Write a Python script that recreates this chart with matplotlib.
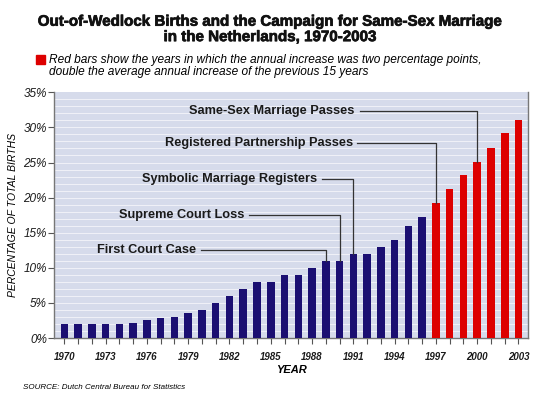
"""
Out-of-wedlock births in the Netherlands, 1970-2003, with the milestones
of the same-sex marriage campaign marked on the bars.
"""

import matplotlib
matplotlib.use("Agg")
import matplotlib.pyplot as plt
import matplotlib.patches as mpatches
import matplotlib.patheffects as pe

years = list(range(1970, 2004))
pct_births = [2, 2, 2, 2, 2, 2.2, 2.5, 2.8, 3, 3.5, 4, 5, 6, 7, 8, 8, 9, 9,
              10, 11, 11, 12, 12, 13, 14, 16, 17.2, 19.2, 21.2, 23.2, 25.1,
              27.1, 29.2, 31.1]
red_from = 1997

events = ["Same-Sex Marriage Passes", "Registered Partnership Passes",
          "Symbolic Marriage Registers", "Supreme Court Loss", "First Court Case"]
event_years = [2000, 1997, 1991, 1990, 1989]
event_levels = [32.4, 27.8, 22.6, 17.5, 12.5]
event_text_end = [1991.1, 1990.95, 1988.35, 1983.1, 1979.6]

NAVY = "#1b0f72"
RED = "#dd0000"
BG = "#d6dbeb"
FONT = "Liberation Sans"

fig = plt.figure(figsize=(5.4, 3.95), dpi=100)
ax = fig.add_axes([0.1, 0.1443, 0.878, 0.622])
ax.set_facecolor(BG)

for g in range(1, 35):
    ax.axhline(g, color="#f4f5fa", linewidth=0.6, zorder=1)

colors = [RED if y >= red_from else NAVY for y in years]
ax.bar(years, pct_births, width=0.55, color=colors, zorder=3)

ax.set_xlim(1969.25, 2003.7)
ax.set_ylim(0, 35)

for name, yr, lvl, tend in zip(events, event_years, event_levels, event_text_end):
    top = pct_births[years.index(yr)]
    ax.text(tend, lvl, name, ha="right", va="center", fontsize=9.2,
            fontweight="bold", family=FONT, color="#1a1a1a", zorder=4)
    ax.plot([tend + 0.35, yr, yr], [lvl, lvl, top], color="#333333",
            linewidth=0.9, zorder=4)

ax.set_yticks(range(0, 36, 5))
ax.set_yticklabels([f"{v}%" for v in range(0, 36, 5)], fontsize=8.5,
                   style="italic", family=FONT, color="#1a1a1a")
ax.set_xticks(years)
ax.set_xticklabels([str(y) if (y - 1970) % 3 == 0 else "" for y in years],
                   fontsize=7, style="italic", fontweight="bold", family=FONT,
                   color="#1a1a1a")
ax.tick_params(axis="x", length=4, width=0.8, color="#555555", pad=6)
ax.tick_params(axis="y", length=4, width=0.8, color="#555555", pad=1)

for side in ["left", "bottom", "right"]:
    ax.spines[side].set_color("#777777")
    ax.spines[side].set_linewidth(1)
ax.spines["top"].set_visible(False)

ax.set_xlabel("YEAR", fontsize=8, style="italic", fontweight="bold",
              family=FONT, labelpad=2)
ax.set_ylabel("PERCENTAGE OF TOTAL BIRTHS", fontsize=7.5, style="italic",
              family=FONT, labelpad=4)

heavy = [pe.withStroke(linewidth=0.5, foreground="#111111")]
fig.text(0.5, 0.945, "Out-of-Wedlock Births and the Campaign for Same-Sex Marriage",
         ha="center", va="center", fontsize=10.9, fontweight="bold", family=FONT,
         color="#111111", path_effects=heavy)
fig.text(0.5, 0.906, "in the Netherlands, 1970-2003",
         ha="center", va="center", fontsize=10.9, fontweight="bold", family=FONT,
         color="#111111", path_effects=heavy)

fig.patches.append(mpatches.Rectangle((0.067, 0.837), 0.0167, 0.023,
                                      transform=fig.transFigure, color=RED))
fig.text(0.091, 0.848, "Red bars show the years in which the annual increase was two percentage points,",
         ha="left", va="center", fontsize=8.55, style="italic", family=FONT)
fig.text(0.091, 0.818, "double the average annual increase of the previous 15 years",
         ha="left", va="center", fontsize=8.55, style="italic", family=FONT)

fig.text(0.043, 0.02, "SOURCE: Dutch Central Bureau for Statistics",
         ha="left", va="center", fontsize=5.8, style="italic", family=FONT)

fig.savefig("out.png", dpi=100)
plt.close(fig)
